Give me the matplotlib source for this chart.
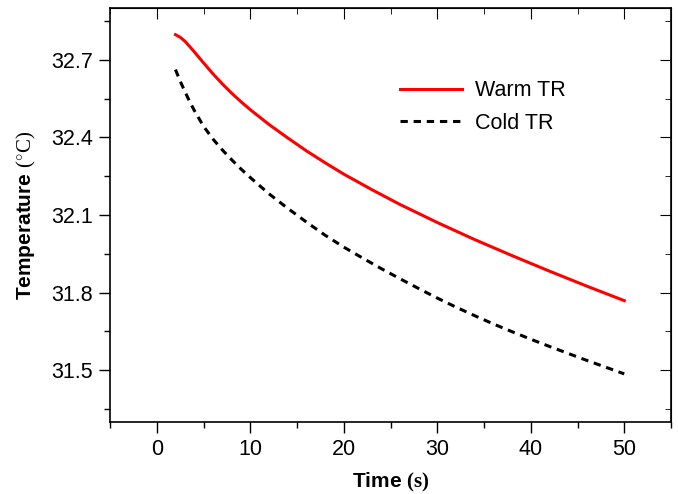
import matplotlib
matplotlib.use("Agg")
import matplotlib.pyplot as plt
from matplotlib.ticker import MultipleLocator

plt.rcParams['font.family'] = ['Liberation Sans', 'DejaVu Sans']
plt.rcParams['mathtext.fontset'] = 'custom'
plt.rcParams['mathtext.rm'] = 'Liberation Serif'
plt.rcParams['mathtext.bf'] = 'Liberation Serif:bold'
plt.rcParams['mathtext.it'] = 'Liberation Serif:italic'

warm_x = [2, 2.5, 3, 3.5, 4, 5, 6, 7, 8, 9, 10, 12, 14, 16, 18, 20, 23, 26, 30,
          34, 38, 42, 46, 50]
warm_y = [32.797, 32.787, 32.772, 32.752, 32.731, 32.688, 32.646, 32.607, 32.571,
          32.538, 32.507, 32.45, 32.398, 32.348, 32.302, 32.258, 32.198, 32.141,
          32.071, 32.005, 31.943, 31.883, 31.825, 31.769]

cold_x = [2, 2.5, 3, 3.5, 4, 5, 6, 7, 8, 9, 10, 12, 14, 16, 18, 20, 22, 24, 26,
          28, 30, 32, 34, 36, 38, 40, 42, 44, 46, 48, 50]
cold_y = [32.662, 32.618, 32.578, 32.54, 32.505, 32.443, 32.394, 32.352, 32.314,
          32.278, 32.245, 32.182, 32.126, 32.073, 32.022, 31.976, 31.934, 31.893,
          31.854, 31.816, 31.779, 31.744, 31.711, 31.679, 31.649, 31.62, 31.592,
          31.565, 31.538, 31.512, 31.486]

xticks = [0, 10, 20, 30, 40, 50]
yticks = [31.5, 31.8, 32.1, 32.4, 32.7]

fig = plt.figure(figsize=(6.78, 4.94), dpi=100)
ax = fig.add_axes([110/678, 72/494, 561/678, 414/494])

ax.plot(warm_x, warm_y, color='#ff0000', lw=2.2, label='Warm TR')
ax.plot(cold_x, cold_y, color='black', lw=2.2, ls=(0, (2.4, 1.9)), label='Cold TR')

ax.set_xlim(-5, 55)
ax.set_ylim(31.3, 32.9)
ax.set_xticks(xticks)
ax.set_xticklabels([str(t) for t in xticks])
ax.set_yticks(yticks)
ax.set_yticklabels([f"{t:.1f}" for t in yticks])
ax.xaxis.set_minor_locator(MultipleLocator(5))
ax.yaxis.set_minor_locator(MultipleLocator(0.15))
ax.tick_params(which='both', direction='out', labelsize=15.5, width=1, pad=4)
ax.tick_params(which='major', length=8)
ax.tick_params(which='minor', length=4)
for s in ax.spines.values():
    s.set_linewidth(1.2)

top = ax.secondary_xaxis('top')
top.set_xticks(xticks)
top.xaxis.set_minor_locator(MultipleLocator(5))
top.tick_params(which='both', direction='in', labeltop=False)
top.tick_params(which='major', length=8)
top.tick_params(which='minor', length=4)
right = ax.secondary_yaxis('right')
right.set_yticks(yticks)
right.yaxis.set_minor_locator(MultipleLocator(0.15))
right.tick_params(which='both', direction='in', labelright=False)
right.tick_params(which='major', length=8)
right.tick_params(which='minor', length=4)

ax.set_xlabel(r"Time $\mathbf{(s)}$", fontsize=15, fontweight='bold', labelpad=8)
ax.set_ylabel(r"Temperature $(^{\circ}\mathrm{C})$", fontsize=15, fontweight='bold', labelpad=10)

ax.legend(loc='upper left', bbox_to_anchor=(0.501, 0.846), frameon=False, fontsize=15.5,
          handlelength=2.9, handletextpad=0.6, labelspacing=0.52, borderaxespad=0)

fig.savefig('out.png', dpi=100)
